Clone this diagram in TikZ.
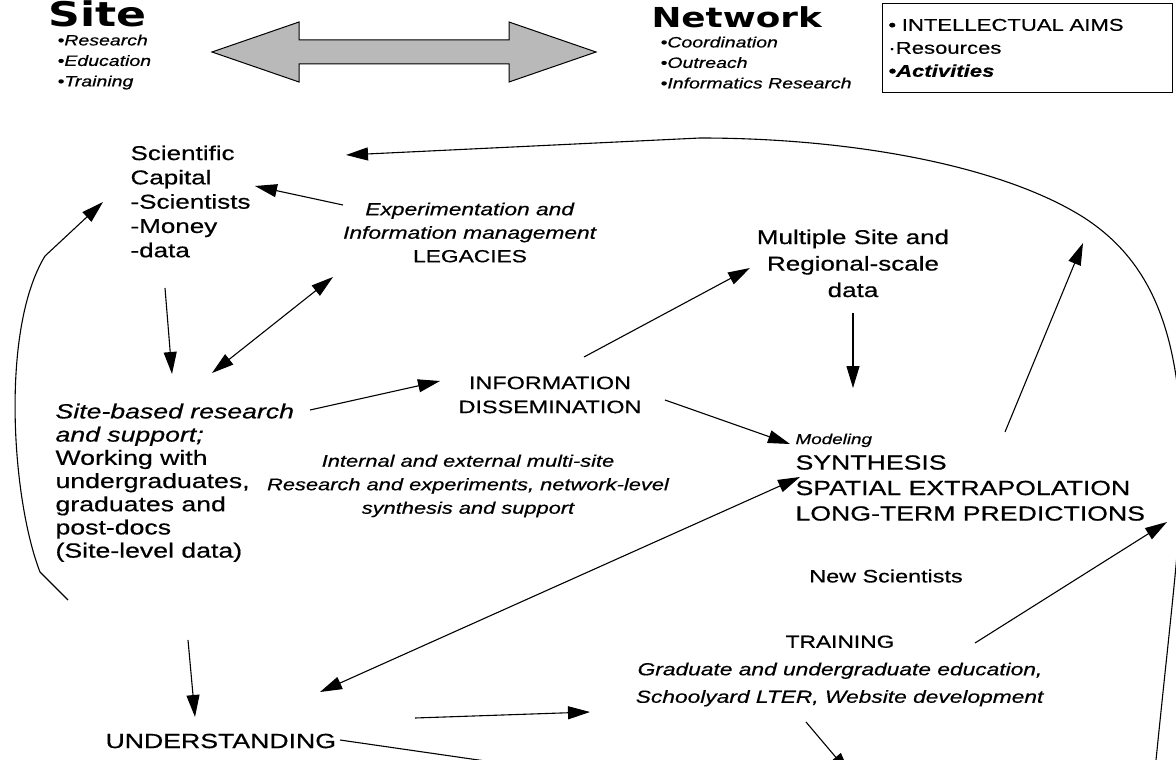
\documentclass[tikz,border=0pt]{standalone}
\usepackage{fontspec}
\setmainfont{Liberation Sans}[FakeStretch=1.3, FakeBold=0.5]
\newfontfamily\headfont{DejaVu Sans}[FakeStretch=1.3]
\usetikzlibrary{arrows.meta,positioning}

\tikzset{
  head/.style={inner sep=0pt, font=\headfont\bfseries\fontsize{34}{34}\selectfont},
  aim/.style={inner sep=0pt, align=left, font=\fontsize{15}{20.5}\selectfont\itshape},
  label/.style={inner sep=0pt, align=center, font=\fontsize{20}{24.5}\selectfont},
  flow/.style={-{Triangle[length=22pt,width=13pt]}},
  twoway/.style={{Triangle[length=22pt,width=13pt]}-{Triangle[length=22pt,width=13pt]}},
}

\begin{document}
\begin{tikzpicture}[x=1pt, y=-1pt, line width=1.1pt]
  \clip (0,0) rectangle (1176,760);
  \fill[white] (0,0) rectangle (1176,760);

  % header
  \node[head, anchor=base west] (site) at (48,27) {Site};
  \node[aim, anchor=north west] (siteaims) at (57,34) {•Research\\•Education\\•Training};
  \node[head, anchor=base west, font=\headfont\bfseries\fontsize{27.5}{28}\selectfont] (network) at (651,28) {Network};
  \node[aim, anchor=north west] (netaims) at (660,36) {•Coordination\\•Outreach\\•Informatics Research};
  \draw[fill=gray!55, line width=1pt] (212,52) -- (299,22) -- (299,40) -- (509,40) -- (509,22)
    -- (596,52) -- (509,82) -- (509,64) -- (299,64) -- (299,82) -- cycle;
  \node[draw, line width=0.8pt, anchor=north west, minimum width=290, minimum height=89,
    inner xsep=6pt, text width=278, align=left, font=\fontsize{17}{23}\selectfont] (aims) at (882,3)
    {• INTELLECTUAL AIMS\\·Resources\\\textbf{\textit{•Activities}}};

  % blocks
  \node[label, anchor=north west, align=left, font=\fontsize{20}{24.3}\selectfont] (sci) at (130,145)
    {Scientific\\Capital\\-Scientists\\-Money\\-data};
  \node[label, anchor=north, font=\fontsize{17.5}{23.5}\selectfont] (legacies) at (470,202)
    {\textit{Experimentation and}\\\textit{Information management}\\LEGACIES};
  \node[label, anchor=north, font=\fontsize{20}{26.5}\selectfont] (multiple) at (853,229)
    {Multiple Site and\\Regional-scale\\data};
  \node[label, anchor=north, font=\fontsize{18}{24}\selectfont] (infodiss) at (550,376)
    {INFORMATION\\DISSEMINATION};
  \node[label, anchor=north west, align=left, font=\fontsize{20.5}{23.2}\selectfont] (sitebased) at (55,403)
    {\textit{Site-based research}\\\textit{and support;}\\Working with\\undergraduates,\\graduates and\\post-docs\\(Site-level data)};
  \node[label, anchor=north, font=\fontsize{16.8}{23.5}\selectfont\itshape] (internal) at (468,454)
    {Internal and external multi-site\\Research and experiments, network-level\\synthesis and support};
  \node[label, anchor=north west, align=left, font=\fontsize{20.5}{25.5}\selectfont] (modeling) at (795,433)
    {{\fontsize{14.5}{16}\selectfont\itshape Modeling}\\SYNTHESIS\\SPATIAL EXTRAPOLATION\\LONG-TERM PREDICTIONS};
  \node[label, font=\fontsize{18}{24}\selectfont] (newsci) at (886,576) {New Scientists};
  \node[label, anchor=north, font=\fontsize{17.5}{27.5}\selectfont] (training) at (840,635)
    {TRAINING\\\textit{Graduate and undergraduate education,}\\\textit{Schoolyard LTER, Website development}};
  \node[label, anchor=west, font=\fontsize{20.5}{26}\selectfont] (understanding) at (105,741) {UNDERSTANDING};

  % connector ends
  \coordinate (loopstart) at (1155,770);
  \coordinate (sciin) at (346,155);
  \coordinate (legtail) at (343,205);
  \coordinate (capin) at (255,186);
  \coordinate (leftstart) at (68,600);
  \coordinate (leftbend) at (40,572);
  \coordinate (leftknee) at (45,256);
  \coordinate (sciup) at (103,202);
  \coordinate (scidown) at (165,288);
  \coordinate (sbtop) at (172,374);
  \coordinate (sbcorner) at (212,373);
  \coordinate (legcorner) at (333,277);
  \coordinate (sbright) at (310,410);
  \coordinate (infoin) at (440,381);
  \coordinate (infoout) at (584,357);
  \coordinate (multin) at (750,268);
  \coordinate (multout) at (853,313);
  \coordinate (modtop) at (853,388);
  \coordinate (dissout) at (665,400);
  \coordinate (modleft) at (790,444);
  \coordinate (modout) at (1005,432);
  \coordinate (loopin) at (1083,243);
  \coordinate (undcorner) at (320,692);
  \coordinate (modcorner) at (800,477);
  \coordinate (sbbottom) at (188,640);
  \coordinate (undtop) at (195,717);
  \coordinate (undright) at (415,718);
  \coordinate (trainin) at (590,712);
  \coordinate (undlow) at (340,740);
  \coordinate (offedge) at (520,766);
  \coordinate (trainout) at (975,643);
  \coordinate (modcornerR) at (1167,522);
  \coordinate (trainbottom) at (806,722);
  \coordinate (offedgeB) at (850,774);

  % connectors
  \draw[flow] (loopstart) .. controls (1170,620) and (1183,520) .. (1182,460)
    .. controls (1181,330) and (1150,260) .. (1083,217)
    .. controls (1000,165) and (850,138) .. (700,138) -- (sciin);
  \draw[flow] (legtail) -- (capin);
  \draw[flow] (leftstart) -- (leftbend) .. controls (12,500) and (0,330) .. (leftknee) -- (sciup);
  \draw[flow] (scidown) -- (sbtop);
  \draw[twoway] (sbcorner) -- (legcorner);
  \draw[flow] (sbright) -- (infoin);
  \draw[flow] (infoout) -- (multin);
  \draw[flow] (multout) -- (modtop);
  \draw[flow] (dissout) -- (modleft);
  \draw[flow] (modout) -- (loopin);
  \draw[twoway] (undcorner) -- (modcorner);
  \draw[flow] (sbbottom) -- (undtop);
  \draw[flow] (undright) -- (trainin);
  \draw (undlow) -- (offedge);
  \draw[flow] (trainout) -- (modcornerR);
  \draw[flow] (trainbottom) -- (offedgeB);
\end{tikzpicture}
\end{document}
